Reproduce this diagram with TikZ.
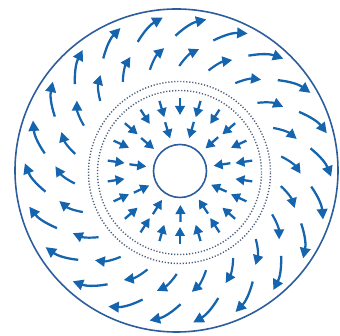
\documentclass[tikz,border=0pt]{standalone}
\usetikzlibrary{arrows.meta,calc}
\definecolor{arrblue}{HTML}{1464AE}
\definecolor{ringblue}{HTML}{2C5E9E}
\definecolor{dotgray}{HTML}{4E5E7C}
\begin{document}
\begin{tikzpicture}[x=1pt,y=1pt,
  arrbig/.style={arrblue, line width=2.3pt, -{Triangle[length=10.5pt,width=10.5pt]}},
  arrmid/.style={arrblue, line width=2.2pt, -{Triangle[length=10pt,width=10pt]}},
  arrrad/.style={arrblue, line width=2.3pt, -{Triangle[length=9pt,width=9.5pt]}},
  ringline/.style={ringblue, line width=1.6pt},
  dotring/.style={dotgray, line width=1.4pt, dash pattern=on 1.2pt off 1.8pt}]
\useasboundingbox (0,0) rectangle (340,336);
\coordinate (C) at (178,166);
\coordinate (Ci) at (180,165);
% circles
\draw[ringline] (176.5,165.5) circle (161.5);
\draw[ringline] (Ci) circle (26.5);
\draw[dotring] (179.5,163.5) circle (91);
\draw[dotring] (179.5,163.5) circle (82);
% outer spiral ring
\foreach \k in {0,...,21}{
  \pgfmathsetmacro\t{3+16.3636*\k}
  \pgfmathsetmacro\p{\t-90+33}
  \draw[arrbig] ($(C)+(\t:143)+(\p+180:17.5)$) to[bend left=15] ($(C)+(\t:143)+(\p:17.5)$);
}
% inner spiral ring
\foreach \k in {0,...,21}{
  \pgfmathsetmacro\t{2.5+16.3636*\k}
  \pgfmathsetmacro\p{\t-90+46}
  \draw[arrmid] ($(C)+(\t:113)+(\p+180:13)$) to[bend left=15] ($(C)+(\t:113)+(\p:13)$);
}
% outer radial ring
\foreach \k in {0,...,21}{
  \pgfmathsetmacro\t{90+16.3636*\k}
  \draw[arrrad] ($(Ci)+(\t:73)$) -- ($(Ci)+(\t:56)$);
}
% inner radial ring
\foreach \k in {0,...,10}{
  \pgfmathsetmacro\t{107+32.727*\k}
  \draw[arrrad] ($(Ci)+(\t:51)$) -- ($(Ci)+(\t:34)$);
}
\end{tikzpicture}
\end{document}
